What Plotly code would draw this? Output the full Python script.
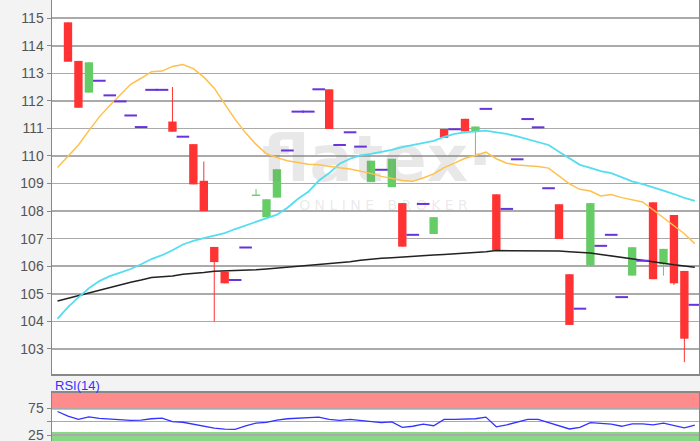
import plotly.graph_objects as go

# ---------------- data ----------------
idx = list(range(0, 61))
open_ = [114.85, 113.45, 112.3, 112.73, 112.2, 111.98, 111.47, 111.05, 112.4, 112.4,
         111.25, 110.7, 110.43, 109.1, 106.7, 105.8, 105.5, 106.68, 108.55, 107.78,
         108.49, 110.2, 111.61, 111.61, 112.42, 112.42, 110.4, 110.86, 110.34, 109.05,
         109.5, 108.87, 108.29, 107.14, 108.26, 107.17, 110.98, 110.97, 111.35, 110.89,
         111.71, 108.61, 108.08, 109.88, 111.34, 111.04, 108.83, 108.25, 105.71, 104.46,
         106.02, 106.74, 107.14, 104.88, 105.66, 106.2, 108.32, 106.07, 107.86, 105.83,
         104.6]
high = [114.85, 113.45, 113.4, 112.73, 112.2, 111.98, 111.47, 111.05, 112.4, 112.4,
        112.5, 110.7, 110.43, 109.8, 106.7, 105.8, 105.5, 106.68, 108.8, 108.43,
        109.52, 110.2, 111.61, 111.61, 112.42, 112.42, 110.4, 110.86, 110.34, 109.83,
        109.5, 109.9, 108.29, 107.14, 108.26, 107.78, 110.98, 110.97, 111.35, 111.07,
        111.71, 108.61, 108.08, 109.88, 111.34, 111.04, 108.83, 108.25, 105.71, 104.46,
        108.29, 106.74, 107.14, 104.88, 106.69, 106.2, 108.32, 106.63, 107.86, 105.83,
        104.6]
low = [113.42, 111.75, 112.3, 112.73, 112.2, 111.98, 111.47, 111.05, 112.4, 112.4,
       110.88, 110.7, 108.97, 108.0, 104.0, 105.38, 105.5, 106.68, 108.55, 107.78,
       108.49, 110.2, 111.61, 111.61, 112.42, 110.98, 110.4, 110.86, 110.34, 109.05,
       109.5, 108.87, 106.71, 107.14, 108.26, 107.17, 110.66, 110.97, 110.89, 110.04,
       111.71, 106.59, 108.08, 109.88, 111.34, 111.04, 108.83, 106.99, 103.87, 104.46,
       106.02, 106.74, 107.14, 104.88, 105.66, 106.2, 105.53, 105.66, 105.32, 102.52,
       104.6]
close = [113.42, 111.75, 113.4, 112.73, 112.2, 111.98, 111.47, 111.05, 112.4, 112.4,
         110.88, 110.7, 108.97, 108.0, 106.15, 105.38, 105.5, 106.68, 108.6, 108.43,
         109.52, 110.2, 111.61, 111.61, 112.42, 110.98, 110.4, 110.86, 110.34, 109.83,
         109.5, 109.9, 106.71, 107.14, 108.26, 107.78, 110.66, 110.97, 110.89, 111.07,
         111.71, 106.59, 108.08, 109.88, 111.34, 111.04, 108.83, 106.99, 103.87, 104.46,
         108.29, 106.74, 107.14, 104.88, 106.69, 106.2, 105.53, 106.63, 105.38, 103.37,
         104.6]

line_idx = list(range(-1, 61))
ma_fast = [109.58, 109.98, 110.4, 110.92, 111.42, 111.83, 112.2, 112.6, 112.82, 113.06,
           113.08, 113.25, 113.32, 113.17, 112.86, 112.46, 111.89, 111.33, 110.84, 110.42,
           110.08, 109.94, 109.83, 109.76, 109.7, 109.68, 109.62, 109.57, 109.53, 109.46,
           109.37, 109.26, 109.19, 109.11, 109.08, 109.2, 109.35, 109.58, 109.74, 109.92,
           110.02, 110.14, 109.9, 109.74, 109.67, 109.64, 109.62, 109.56, 109.27, 108.99,
           108.79, 108.73, 108.55, 108.6, 108.49, 108.42, 108.33, 108.05, 107.76, 107.46,
           107.18, 106.82]
ma_mid = [104.1, 104.52, 104.87, 105.2, 105.46, 105.64, 105.77, 105.9, 106.07, 106.26,
          106.4, 106.58, 106.79, 106.92, 107.02, 107.1, 107.2, 107.35, 107.48, 107.62,
          107.74, 107.87, 108.12, 108.44, 108.7, 109.1, 109.38, 109.72, 109.9, 110.02,
          110.08, 110.14, 110.22, 110.32, 110.39, 110.46, 110.55, 110.69, 110.8, 110.86,
          110.9, 110.92, 110.86, 110.8, 110.71, 110.6, 110.5, 110.4, 110.15, 109.9,
          109.68, 109.57, 109.45, 109.38, 109.22, 109.08, 108.98, 108.87, 108.74, 108.62,
          108.48, 108.37]
ma_slow = [104.74, 104.84, 104.94, 105.03, 105.14, 105.23, 105.32, 105.42, 105.5, 105.59,
           105.62, 105.65, 105.71, 105.73, 105.77, 105.82, 105.83, 105.84, 105.85, 105.87,
           105.9, 105.93, 105.96, 105.99, 106.02, 106.05, 106.08, 106.12, 106.16, 106.22,
           106.26, 106.29, 106.31, 106.34, 106.37, 106.39, 106.41, 106.43, 106.45, 106.47,
           106.49, 106.53, 106.57, 106.57, 106.57, 106.57, 106.57, 106.57, 106.55, 106.53,
           106.51, 106.48, 106.43, 106.38, 106.33, 106.27, 106.21, 106.16, 106.11, 106.05,
           106.0, 105.96]
rsi = [69, 60.5, 54.3, 58.8, 56.1, 54.8, 53.6, 52.6, 53, 55.5,
       56.5, 50, 49, 45.4, 42, 38, 36, 35.5, 42, 47.5,
       48.9, 53, 55.5, 56.6, 57.8, 58.5, 54.5, 52.6, 54.3, 52.6,
       50.5, 48.4, 49.7, 39.3, 41.5, 45.5, 42.5, 54.3, 54.3, 54.3,
       55.5, 58.5, 40.5, 44.1, 48.5, 54.3, 54.3, 48, 41.5, 36.4,
       39.5, 48.2, 47, 45.5, 41.5, 45.9, 45.9, 44, 47.5, 43,
       38.5, 43.5]
main_ticks = list(range(103, 116))
rsi_ticks = [25, 50, 75]
rsi_ticktext = ["25", "", "75"]

# ---------------- styles ----------------
RED = "#ff3333"
GREEN = "#66cc66"
PURPLE = "#6633dd"
GRID = "#aaaaaa"
AXIS = "#888888"

up_x, up_base, up_h = [], [], []
dn_x, dn_base, dn_h = [], [], []
flat_x, flat_y = [], []
wick_up_x, wick_up_y, wick_dn_x, wick_dn_y = [], [], [], []
for i, o, h, l, c in zip(idx, open_, high, low, close):
    if o == h == l == c:
        flat_x.append(i)
        flat_y.append(c)
        continue
    if c >= o:
        up_x.append(i); up_base.append(o); up_h.append(c - o)
        if h > l:
            wick_up_x += [i, i, None]; wick_up_y += [l, h, None]
    else:
        dn_x.append(i); dn_base.append(c); dn_h.append(o - c)
        if h > l:
            wick_dn_x += [i, i, None]; wick_dn_y += [l, h, None]

fig = go.Figure()

# watermark (drawn early so it sits beneath lines)
fig.add_trace(go.Scatter(x=[29.6], y=[109.68], mode="text", text=["flatex·"],
                         textfont=dict(family="DejaVu Sans", size=64, weight="bold",
                                       color="rgba(128,128,128,0.18)"),
                         hoverinfo="skip"))
fig.add_trace(go.Scatter(x=[30.2], y=[108.16], mode="text", text=["O N L I N E   B R O K E R"],
                         textfont=dict(family="DejaVu Sans", size=14, color="rgba(128,128,128,0.18)"),
                         hoverinfo="skip"))

fig.add_trace(go.Bar(x=up_x, y=up_h, base=up_base, width=0.8,
                     marker=dict(color=GREEN, line=dict(width=0))))
fig.add_trace(go.Bar(x=dn_x, y=dn_h, base=dn_base, width=0.8,
                     marker=dict(color=RED, line=dict(width=0))))
fig.add_trace(go.Scatter(x=wick_up_x, y=wick_up_y, mode="lines",
                         line=dict(color=GREEN, width=1), connectgaps=False))
fig.add_trace(go.Scatter(x=wick_dn_x, y=wick_dn_y, mode="lines",
                         line=dict(color=RED, width=1), connectgaps=False))

fig.add_trace(go.Scatter(x=line_idx, y=ma_slow, mode="lines", line=dict(color="#222222", width=1.5)))
fig.add_trace(go.Scatter(x=line_idx, y=ma_mid, mode="lines", line=dict(color="#55ddf0", width=1.8)))
fig.add_trace(go.Scatter(x=line_idx, y=ma_fast, mode="lines", line=dict(color="#ffc04c", width=1.5)))

fig.add_trace(go.Scatter(x=flat_x, y=flat_y, mode="markers",
                         marker=dict(symbol="line-ew", size=9, color=PURPLE,
                                     line=dict(color=PURPLE, width=2))))

fig.add_trace(go.Scatter(x=line_idx, y=rsi, mode="lines", xaxis="x2", yaxis="y2",
                         line=dict(color="#3333ff", width=1.3)))

H = 441
main_bottom = (H - 374) / H
rsi_top = (H - 392.7) / H

xr = [-1.53, 60.4]
fig.update_layout(
    width=700, height=H,
    margin=dict(l=52, r=1, t=0, b=0, pad=0, autoexpand=False),
    paper_bgcolor="#f3f3f3", plot_bgcolor="#ffffff",
    showlegend=False, hovermode=False, barmode="overlay",
    xaxis=dict(domain=[0, 1], range=xr, showticklabels=False, showgrid=False, zeroline=False,
               showline=True, linecolor=AXIS, linewidth=1.5, mirror=True, ticks="", anchor="y"),
    yaxis=dict(domain=[main_bottom, 1], range=[102.09, 115.66], tickvals=main_ticks,
               showgrid=True, gridcolor=GRID, gridwidth=1.5, zeroline=False,
               showline=True, linecolor=AXIS, linewidth=1.5, mirror=True,
               ticks="outside", ticklen=4, tickcolor=AXIS, ticklabeloverflow="allow",
               tickfont=dict(family="Liberation Sans, Arial", size=14, color="#555555"), anchor="x"),
    xaxis2=dict(domain=[0, 1], range=xr, showticklabels=False, showgrid=False, zeroline=False,
                showline=True, linecolor=AXIS, linewidth=1.5, mirror=True, ticks="", anchor="y2"),
    yaxis2=dict(domain=[0, rsi_top], range=[14, 104.1], tickvals=rsi_ticks, ticktext=rsi_ticktext,
                showgrid=True, gridcolor=GRID, gridwidth=1.5, zeroline=False,
                showline=True, linecolor=AXIS, linewidth=1.5, mirror=True,
                ticks="outside", ticklen=4, tickcolor=AXIS, ticklabeloverflow="allow",
                tickfont=dict(family="Liberation Sans, Arial", size=14, color="#555555"), anchor="x2"),
    shapes=[
        dict(type="rect", xref="x2 domain", yref="y2", x0=0, x1=1, y0=72.5, y1=104.1,
             fillcolor="#ff8c8c", line=dict(width=0), layer="below"),
        dict(type="rect", xref="x2 domain", yref="y2", x0=0, x1=1, y0=14, y1=31,
             fillcolor="#88d888", line=dict(width=0), layer="below"),
    ],
    annotations=[
        dict(text="RSI(14)", xref="paper", yref="paper", x=0.0015, y=(H - 385) / H,
             xanchor="left", yanchor="middle", showarrow=False,
             font=dict(family="Liberation Sans, Arial", size=13, color="#3333ff")),
    ],
)

fig.write_html("out.html", config={"displayModeBar": False, "staticPlot": True},
               post_script="document.body.style.margin='0';document.body.style.padding='0';")
